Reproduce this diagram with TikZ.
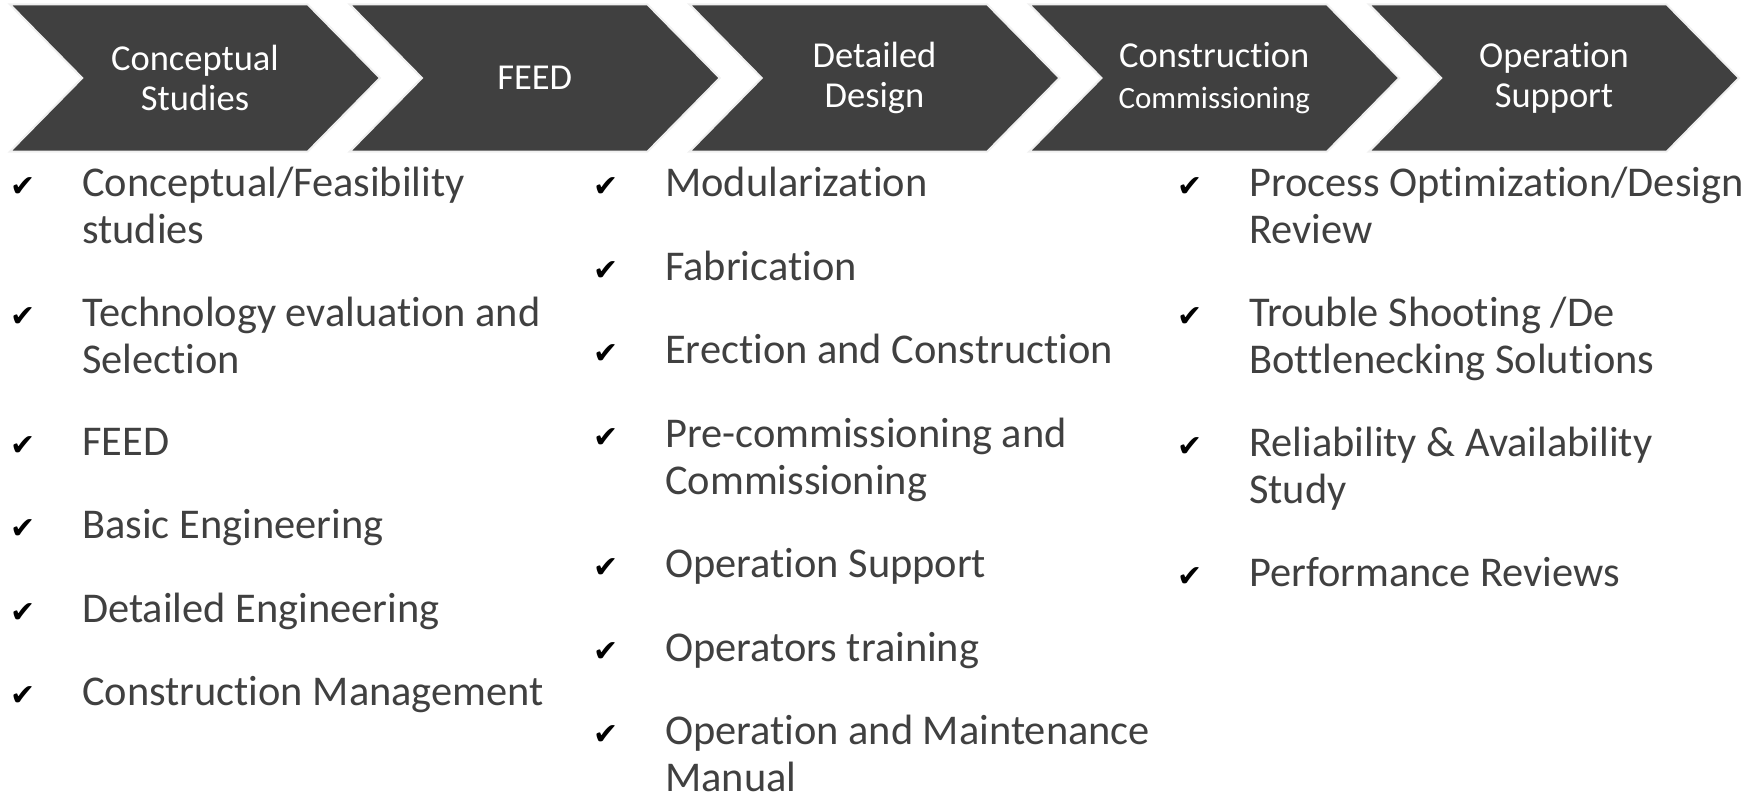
\documentclass[tikz,border=0pt]{standalone}
\usepackage{fontspec}
\setmainfont{Carlito}[Ligatures=NoCommon]
\newfontfamily\tickfont{DejaVu Sans}
\usetikzlibrary{shapes.symbols, positioning}

\definecolor{chevgray}{HTML}{404040}
\definecolor{itemgray}{HTML}{404040}

\tikzset{
  stage/.style={signal, signal from=west, signal to=east, signal pointer angle=91,
    fill=chevgray, draw=gray!12, line width=2pt, minimum width=370pt, minimum height=147pt,
    inner sep=0pt, text=white, align=center, font=\fontsize{36.5}{40.5}\selectfont},
  item/.style={anchor=base west, align=left, inner sep=0pt, text=itemgray,
    font=\fontsize{42.4}{47}\selectfont},
  twoline/.style={item, yshift=-47pt},
  tick/.style={inner sep=0pt, text=black, font=\tickfont\fontsize{30}{30}\selectfont}
}

\begin{document}
\begin{tikzpicture}[x=1pt, y=-1pt]
            \useasboundingbox (0,0) rectangle (1749,800);

            % Stages
            \node[stage] (s1) at (195, 78) {Conceptual\\Studies};
            \node[stage] (s2) at (534.75, 78) {FEED};
            \node[stage] (s3) at (874.5, 78) {Detailed\\Design};
            \node[stage] (s4) at (1214.25, 78) {Construction\\{\fontsize{31}{31}\selectfont Commissioning}};
            \node[stage] (s5) at (1554, 78) {Operation\\Support};

            % Engineering column
            \node[twoline] (c1) at (82, 196) {Conceptual/Feasibility\\studies};
            \node[twoline] (c2) at (82, 326) {Technology evaluation and\\Selection};
            \node[item] (c3) at (82, 455) {FEED};
            \node[item] (c4) at (82, 538) {Basic Engineering};
            \node[item] (c5) at (82, 622) {Detailed Engineering};
            \node[item] (c6) at (82, 705) {Construction Management};
            \node[tick] at ([xshift=-59pt, yshift=56pt]c1.base west) {✔};
            \node[tick] at ([xshift=-59pt, yshift=56pt]c2.base west) {✔};
            \node[tick] at ([xshift=-59pt, yshift=9pt]c3.base west) {✔};
            \node[tick] at ([xshift=-59pt, yshift=9pt]c4.base west) {✔};
            \node[tick] at ([xshift=-59pt, yshift=9pt]c5.base west) {✔};
            \node[tick] at ([xshift=-59pt, yshift=9pt]c6.base west) {✔};

            % Site column
            \node[item] (d1) at (665, 196) {Modularization};
            \node[item] (d2) at (665, 280) {Fabrication};
            \node[item] (d3) at (665, 363) {Erection and Construction};
            \node[twoline] (d4) at (665, 447) {Pre-commissioning and\\Commissioning};
            \node[item] (d5) at (665, 577) {Operation Support};
            \node[item] (d6) at (665, 661) {Operators training};
            \node[twoline] (d7) at (665, 744) {Operation and Maintenance\\Manual};
            \node[tick] at ([xshift=-59pt, yshift=9pt]d1.base west) {✔};
            \node[tick] at ([xshift=-59pt, yshift=9pt]d2.base west) {✔};
            \node[tick] at ([xshift=-59pt, yshift=9pt]d3.base west) {✔};
            \node[tick] at ([xshift=-59pt, yshift=56pt]d4.base west) {✔};
            \node[tick] at ([xshift=-59pt, yshift=9pt]d5.base west) {✔};
            \node[tick] at ([xshift=-59pt, yshift=9pt]d6.base west) {✔};
            \node[tick] at ([xshift=-59pt, yshift=56pt]d7.base west) {✔};

            % Plant column
            \node[twoline] (p1) at (1249, 196) {Process Optimization/Design\\Review};
            \node[twoline] (p2) at (1249, 326) {Trouble Shooting /De\\Bottlenecking Solutions};
            \node[twoline] (p3) at (1249, 456) {Reliability \& Availability\\Study};
            \node[item] (p4) at (1249, 586) {Performance Reviews};
            \node[tick] at ([xshift=-59pt, yshift=56pt]p1.base west) {✔};
            \node[tick] at ([xshift=-59pt, yshift=56pt]p2.base west) {✔};
            \node[tick] at ([xshift=-59pt, yshift=56pt]p3.base west) {✔};
            \node[tick] at ([xshift=-59pt, yshift=9pt]p4.base west) {✔};
\end{tikzpicture}
\end{document}
